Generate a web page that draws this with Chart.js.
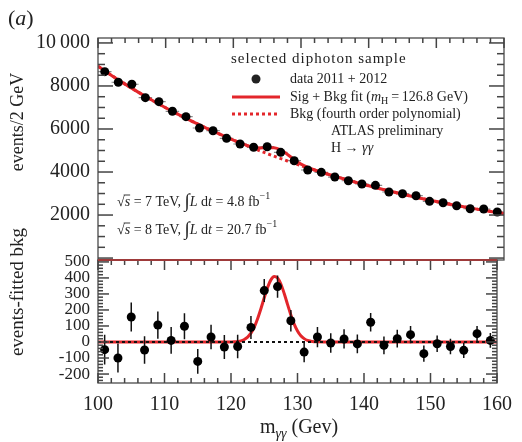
<!DOCTYPE html>
<html>
<head>
<meta charset="utf-8">
<script src="https://cdn.jsdelivr.net/npm/chart.js@4.4.0/dist/chart.umd.min.js"></script>
<style>
body { margin: 0; background: #fff; }
#wrap { position: relative; width: 522px; height: 442px; }
canvas { position: absolute; left: 0; top: 0; }
</style>
</head>
<body>
<div id="wrap">
  <canvas id="top" width="522" height="442"></canvas>
  <canvas id="bot" width="522" height="442"></canvas>
</div>
<script>
// diphoton mass bins (GeV), 2 GeV wide
const mass = [101, 103, 105, 107, 109, 111, 113, 115, 117, 119, 121, 123, 125, 127, 129,
              131, 133, 135, 137, 139, 141, 143, 145, 147, 149, 151, 153, 155, 157, 159]
const events = [8665, 8172, 8079, 7456, 7270, 6823, 6572, 6047, 5921, 5567, 5302, 5149, 5177, 4916, 4526,
                4093, 3986, 3767, 3595, 3442, 3381, 3070, 2991, 2898, 2637, 2572, 2433, 2293, 2279, 2140]
// events - fitted bkg, and its error
const residual = [-48, -100, 156, -50, 106, 10, 98, -121, 31, -31, -28, 91, 321, 346, 133,
                  -63, 31, -6, 19, -12, 123, -21, 21, 46, -73, -11, -28, -52, 52, 10]
const resErr = [93, 91, 90, 86, 85, 83, 81, 78, 77, 75, 73, 72, 72, 70, 67,
                64, 63, 61, 60, 59, 58, 55, 55, 54, 51, 51, 49, 48, 48, 46]

// background fit (fourth order polynomial)
const bkgMass = [100, 102, 104, 106, 108, 110, 112, 114, 116, 118, 120, 122, 124, 126, 128, 130,
                 132, 134, 136, 138, 140, 142, 144, 146, 148, 150, 152, 154, 156, 158, 160]
const bkgFit = [8915, 8490, 8085, 7702, 7337, 6988, 6657, 6342, 6042, 5756, 5484, 5224, 4976, 4740, 4514, 4298,
                4092, 3896, 3708, 3530, 3360, 3199, 3045, 2899, 2761, 2629, 2505, 2387, 2275, 2169, 2067]

// sig + bkg fit
const fitMass = [100, 102, 104, 106, 108, 110, 112, 114, 116, 118,
                 119, 120, 121, 122, 123, 124, 125, 126, 127, 128, 129, 130, 131, 132, 133, 134,
                 136, 138, 140, 142, 144, 146, 148, 150, 152, 154, 156, 158, 160]
const fitTotal = [8915, 8490, 8085, 7702, 7337, 6988, 6657, 6342, 6042, 5756,
                  5619, 5484, 5356, 5240, 5154, 5121, 5133, 5128, 5026, 4817, 4574, 4367, 4215, 4097, 3994, 3896,
                  3708, 3530, 3360, 3199, 3045, 2899, 2761, 2629, 2505, 2387, 2275, 2169, 2067]

// signal part in the lower panel
const sigMass = [100, 118, 120, 120.5, 121, 121.5, 122, 122.5, 123, 123.5, 124, 124.5, 125, 125.5, 126, 126.5,
                 127, 127.5, 128, 128.5, 129, 129.5, 130, 130.5, 131, 131.5, 132, 132.5, 133, 134, 136, 160]
const sigFit = [0, 0, 0.5, 1, 3, 7, 16, 31, 55, 93, 145, 208, 276, 340, 388, 409,
                400, 362, 303, 235, 169, 112, 69, 39, 21, 10, 5, 2, 1, 0, 0, 0]
const zeroMass = [100, 160]
const zeroFit = [0, 0]

const topTicks = [2000, 4000, 6000, 8000, 10000]
const botTicks = [-200, -100, 0, 100, 200, 300, 400, 500]

const SERIF = "'Liberation Serif', 'DejaVu Serif', serif"
const RED = '#e3262b'
Chart.defaults.font.family = SERIF
Chart.defaults.color = '#222'

function pts(xs, ys) { return xs.map((m, i) => ({x: m, y: ys[i]})) }

// text with italic / sub / sup pieces
function rich(ctx, x, y, parts, size, align) {
    const fontOf = k => (k.includes('i') ? 'italic ' : '') +
        Math.round(k.includes('b') || k.includes('p') ? size * 0.72 : k.includes('g') ? size * 1.35 : size) + 'px ' + SERIF
    let w = 0
    parts.forEach(([t, k]) => { ctx.font = fontOf(k); w += ctx.measureText(t).width })
    let cx = align === 'center' ? x - w / 2 : x
    ctx.textAlign = 'left'
    ctx.textBaseline = 'middle'
    parts.forEach(([t, k]) => {
        ctx.font = fontOf(k)
        const dy = k.includes('b') ? size * 0.32 : k.includes('p') ? -size * 0.38 : 0
        ctx.fillText(t, cx, y + dy)
        const tw = ctx.measureText(t).width
        if (k.includes('o')) {
            ctx.beginPath(); ctx.lineWidth = 0.9
            ctx.moveTo(cx - 1, y - size * 0.5); ctx.lineTo(cx + tw, y - size * 0.5); ctx.stroke()
        }
        cx += tw
    })
}

// ROOT style frame with inward ticks
const frameOpts = {
    top: {xTop: true, xBottom: false, yFrom: 0, yMinor: 500, yMajor: 2000, yLong: 15, yShort: 7},
    bot: {xTop: true, xBottom: true, yFrom: -240, yMinor: 20, yMajor: 100, yLong: 11, yShort: 5, topColor: '#9e3a3a'}
}
const frame = {
    id: 'frame',
    afterDraw(chart) {
        const o = frameOpts[chart.canvas.id]
        const ctx = chart.ctx, a = chart.chartArea, xs = chart.scales.x, ys = chart.scales.y
        ctx.save()
        ctx.setLineDash([])
        ctx.strokeStyle = '#4a4a4a'
        ctx.lineWidth = 1.3
        ctx.strokeRect(a.left, a.top, a.right - a.left, a.bottom - a.top)
        ctx.fillStyle = '#444'
        for (let v = 100; v <= 160; v += 2) {
            const px = xs.getPixelForValue(v), len = v % 10 === 0 ? 10 : 5
            if (o.xTop) ctx.fillRect(px - 0.75, a.top, 1.5, len)
            if (o.xBottom) ctx.fillRect(px - 0.75, a.bottom - len, 1.5, len)
        }
        for (let v = o.yFrom; v <= ys.max; v += o.yMinor) {
            if (v < ys.min) continue
            const py = ys.getPixelForValue(v), len = v % o.yMajor === 0 ? o.yLong : o.yShort
            ctx.fillRect(a.left, py - 0.75, len, 1.5)
            ctx.fillRect(a.right - len, py - 0.75, len, 1.5)
        }
        if (o.topColor) {
            ctx.fillStyle = o.topColor
            ctx.fillRect(a.left, a.top - 1, a.right - a.left, 2)
        }
        ctx.restore()
    }
}

const topText = {
    id: 'topText',
    afterDraw(chart) {
        const ctx = chart.ctx
        ctx.save()
        ctx.fillStyle = '#222'
        ctx.strokeStyle = '#222'
        rich(ctx, 8, 19, [['(', ''], ['a', 'i'], [')', '']], 22, 'left')
        ctx.save()
        ctx.translate(18, 122); ctx.rotate(-Math.PI / 2)
        rich(ctx, 0, 0, [['events/2 GeV', '']], 18, 'center')
        ctx.restore()

        ctx.letterSpacing = '1px'
        rich(ctx, 231, 59, [['selected diphoton sample', '']], 15, 'left')
        ctx.letterSpacing = '0px'
        ctx.beginPath(); ctx.arc(256, 79, 4.5, 0, Math.PI * 2); ctx.fill()
        rich(ctx, 290, 79, [['data 2011 + 2012', '']], 14, 'left')
        ctx.lineWidth = 3
        ctx.strokeStyle = RED
        ctx.beginPath(); ctx.moveTo(232, 97); ctx.lineTo(280, 97); ctx.stroke()
        ctx.setLineDash([3, 3])
        ctx.beginPath(); ctx.moveTo(232, 114); ctx.lineTo(280, 114); ctx.stroke()
        ctx.setLineDash([])
        ctx.strokeStyle = '#222'
        rich(ctx, 290, 97, [['Sig + Bkg fit (', ''], ['m', 'i'], ['H', 'b'], ['\u2009=\u2009126.8 GeV)', '']], 14, 'left')
        rich(ctx, 290, 114, [['Bkg (fourth order polynomial)', '']], 14, 'left')
        rich(ctx, 331, 131, [['ATLAS preliminary', '']], 14, 'left')
        rich(ctx, 331, 148, [['H \u2192 ', ''], ['\u03b3\u03b3', 'i']], 14, 'left')

        rich(ctx, 117, 202, [['\u221a', ''], ['s', 'io'], [' = 7 TeV, ', ''], ['\u222b', 'g'], ['L', 'i'], [' d', ''], ['t', 'i'],
            [' = 4.8 fb', ''], ['\u22121', 'p']], 14, 'left')
        rich(ctx, 117, 230, [['\u221a', ''], ['s', 'io'], [' = 8 TeV, ', ''], ['\u222b', 'g'], ['L', 'i'], [' d', ''], ['t', 'i'],
            [' = 20.7 fb', ''], ['\u22121', 'p']], 14, 'left')
        ctx.restore()
    }
}

const botText = {
    id: 'botText',
    afterDraw(chart) {
        const ctx = chart.ctx
        ctx.save()
        ctx.fillStyle = '#222'
        ctx.save()
        ctx.translate(18, 292); ctx.rotate(-Math.PI / 2)
        rich(ctx, 0, 0, [['events-fitted bkg', '']], 19, 'center')
        ctx.restore()
        rich(ctx, 299, 428, [['m', ''], ['\u03b3\u03b3', 'ib'], [' (Gev)', '']], 20, 'center')
        ctx.restore()
    }
}

const xScale = {type: 'linear', min: 100, max: 160}

new Chart(document.getElementById('top'), {
    type: 'line',
    data: {
        datasets: [
            {data: pts(mass, events), showLine: false, pointRadius: 4.5, pointBackgroundColor: '#000',
             pointBorderWidth: 0, order: 0},
            {data: pts(fitMass, fitTotal), borderColor: RED, borderWidth: 3, pointRadius: 0,
             cubicInterpolationMode: 'monotone', order: 1},
            {data: pts(bkgMass, bkgFit), borderColor: RED, borderWidth: 3, borderDash: [3, 3], pointRadius: 0,
             cubicInterpolationMode: 'monotone', order: 2},
            {data: mass.flatMap((m, i) => [{x: m - 1, y: events[i]}, {x: m + 1, y: events[i]}, {x: m + 1, y: null}]),
             borderColor: '#8a8a8a', borderWidth: 1.2, pointRadius: 0, spanGaps: false, order: 3}
        ]
    },
    options: {
        responsive: false,
        animation: false,
        layout: {padding: {left: 0, right: 18, top: 38, bottom: 182}},
        plugins: {legend: {display: false}, tooltip: {enabled: false}},
        scales: {
            x: {...xScale, display: false},
            y: {
                min: -90, max: 10230,
                afterFit: s => { s.width = 98 },
                afterBuildTicks: s => { s.ticks = topTicks.map(v => ({value: v})) },
                grid: {display: false, drawTicks: false},
                border: {display: false},
                ticks: {padding: 8, autoSkip: false, font: {size: 20}, color: '#222',
                        callback: v => v === 10000 ? '10\u2009000' : String(v)}
            }
        }
    },
    plugins: [frame, topText]
})

new Chart(document.getElementById('bot'), {
    type: 'line',
    data: {
        datasets: [
            {data: pts(mass, residual), showLine: false, pointRadius: 4.5, pointBackgroundColor: '#000',
             pointBorderWidth: 0, order: 0},
            {data: mass.flatMap((m, i) => [{x: m, y: residual[i] - resErr[i]}, {x: m, y: residual[i] + resErr[i]}, {x: m, y: null}]),
             borderColor: '#111', borderWidth: 1.5, pointRadius: 0, spanGaps: false, order: 1},
            {data: pts(zeroMass, zeroFit), borderColor: '#111', borderWidth: 2, borderDash: [3, 3], pointRadius: 0, order: 2},
            {data: pts(sigMass, sigFit), borderColor: RED, borderWidth: 3, pointRadius: 0,
             cubicInterpolationMode: 'monotone', order: 3}
        ]
    },
    options: {
        responsive: false,
        animation: false,
        layout: {padding: {left: 0, right: 18, top: 260, bottom: 0}},
        plugins: {legend: {display: false}, tooltip: {enabled: false}},
        scales: {
            x: {
                ...xScale,
                afterFit: s => { s.height = 59 },
                grid: {display: false, drawTicks: false},
                border: {display: false},
                ticks: {stepSize: 10, padding: 10, autoSkip: false, maxRotation: 0, font: {size: 20}, color: '#222'}
            },
            y: {
                min: -256, max: 512,
                afterFit: s => { s.width = 98 },
                afterBuildTicks: s => { s.ticks = botTicks.map(v => ({value: v})) },
                grid: {display: false, drawTicks: false},
                border: {display: false},
                ticks: {padding: 8, autoSkip: false, font: {size: 17}, color: '#222'}
            }
        }
    },
    plugins: [frame, botText]
})
</script>
</body>
</html>
